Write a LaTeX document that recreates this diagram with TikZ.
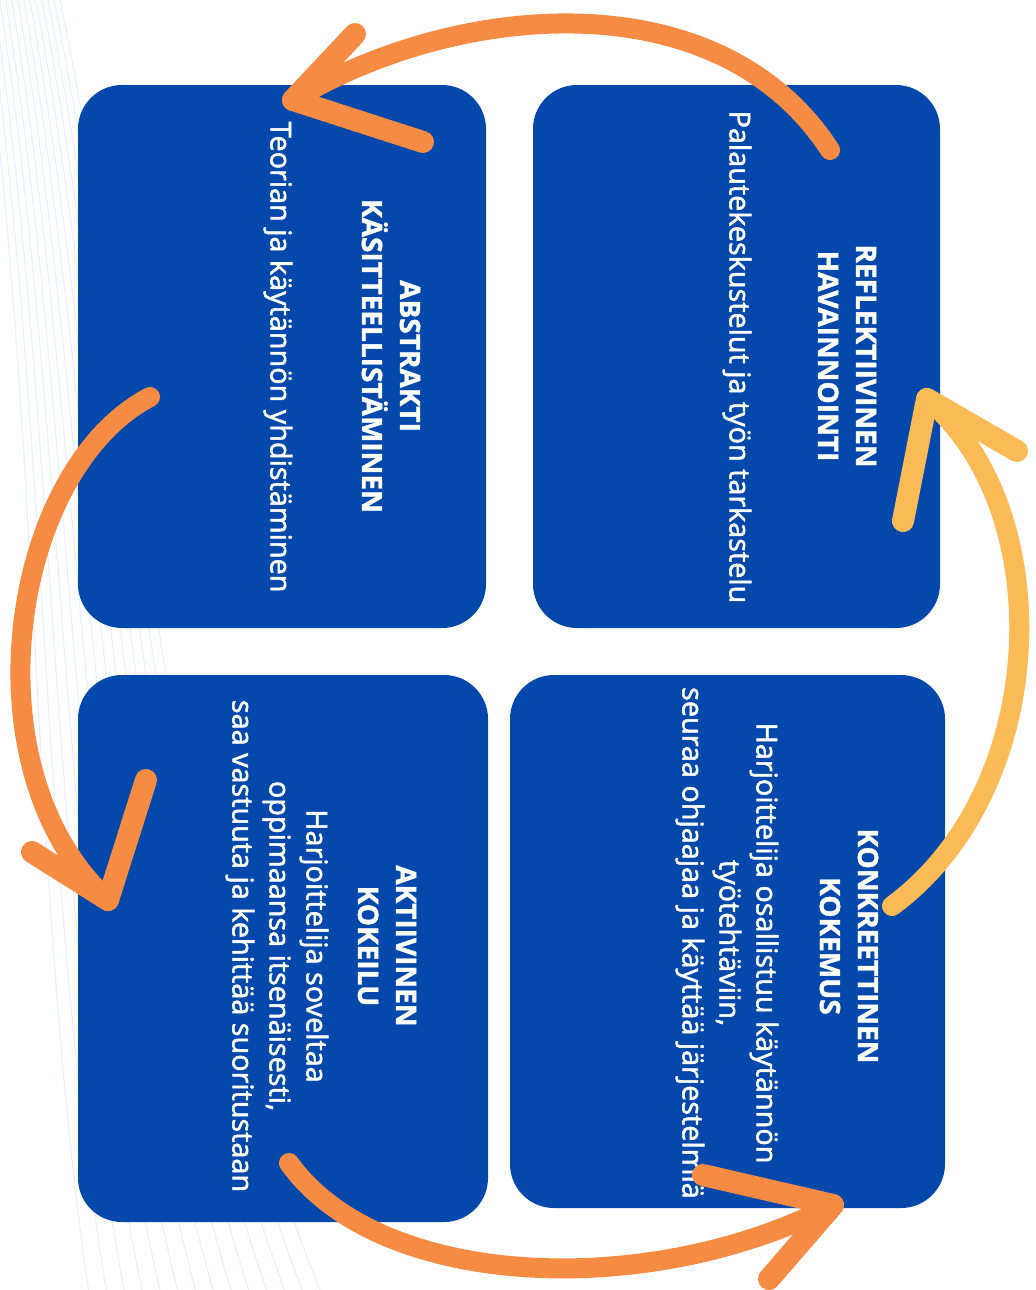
\documentclass[tikz,border=0pt]{standalone}
\usepackage{fontspec}
\setmainfont{Open Sans}
\newfontfamily\bodyfont{Open Sans}[FakeBold=1.8]
\newfontfamily\headfont{Open Sans}[BoldFeatures={FakeBold=1.5}]
\usepackage{tikz}
\usetikzlibrary{calc}
\usetikzlibrary{arrows,shapes,positioning}
\definecolor{boxblue}{RGB}{3,72,170}
\definecolor{brushorange}{RGB}{246,140,68}
\definecolor{brushyellow}{RGB}{250,186,86}
\definecolor{wavegrey}{RGB}{230,241,249}
\tikzset{>=stealth}
\tikzset{
  card/.style={fill=boxblue, rounded corners=22pt, inner sep=0pt},
  head/.style={rotate=-90, text=white, align=center, inner sep=0pt,
    font=\headfont\bfseries\fontsize{14}{19}\selectfont},
  body/.style={rotate=-90, text=white, align=center, inner sep=0pt,
    font=\bodyfont\fontsize{14.4}{18.5}\selectfont},
  brush/.style={line width=10pt, line cap=round, line join=round},
  barb/.style={line width=11pt, line cap=round},
  waveline/.style={wavegrey, line width=0.6pt}
}

\begin{document}
\begin{tikzpicture}[x=0.5pt,y=-0.5pt]
\useasboundingbox (0,0) rectangle (1036,1290);
\fill [white] (0,0) rectangle (1036,1290);
\foreach \i in {0,...,13}
  \draw [waveline] (\i*6-20,-10) .. controls (\i*8+40,400) and (\i*10+30,900) .. (\i*18+90,1300);

\node [card, minimum width=204pt, minimum height=271.5pt] (abstr) at (282,356.5) {};
\node [card, minimum width=203.5pt, minimum height=271.5pt] (refl) at (736.5,356.5) {};
\node [card, minimum width=205pt, minimum height=273.5pt] (aktiv) at (283,948.5) {};
\node [card, minimum width=217.5pt, minimum height=266.5pt] (konkr) at (727.5,941.5) {};

\node [head] (refl-head) at (847,356) {REFLEKTIIVINEN\\HAVAINNOINTI};
\node [body] (refl-text) at (737,357) {Palautekeskustelut ja työn tarkastelu};
\node [head] (abstr-head) at (391,356) {ABSTRAKTI\\KÄSITTEELLISTÄMINEN};
\node [body] (abstr-text) at (278,357) {Teorian ja käytännön yhdistäminen};
\node [head] (konkr-head) at (849,946) {KONKREETTINEN\\KOKEMUS};
\node [body] (konkr-text) at (727,943) {Harjoittelija osallistuu käytännön\\työtehtäviin,\\seuraa ohjaajaa ja käyttää järjestelmiä};
\node [head] (aktiv-head) at (387,946) {AKTIIVINEN\\KOKEILU};
\node [body] (aktiv-text) at (277,946) {Harjoittelija soveltaa\\oppimaansa itsenäisesti,\\saa vastuuta ja kehittää suoritustaan};

\coordinate (refl-out) at (830,150);
\coordinate (abstr-in) at (293,100);
\coordinate (abstr-out) at (150,397);
\coordinate (aktiv-in) at (108,900);
\coordinate (aktiv-out) at (289,1163);
\coordinate (konkr-in) at (833,1205);
\coordinate (konkr-out) at (892,906);
\coordinate (refl-in) at (927,399);

\draw [brush,brushorange] (refl-out) .. controls (720,-20) and (460,0) .. (abstr-in);
\draw [barb,brushorange] (abstr-in) -- ++(62,-66);
\draw [barb,brushorange] (abstr-in) -- ++(130,42);
\draw [brush,brushorange] (abstr-out) .. controls (10,470) and (-35,770) .. (aktiv-in);
\draw [barb,brushorange] (aktiv-in) -- ++(-76,-48);
\draw [barb,brushorange] (aktiv-in) -- ++(38,-120);
\draw [brush,brushorange] (aktiv-out) .. controls (380,1290) and (650,1300) .. (konkr-in);
\draw [barb,brushorange] (konkr-in) -- ++(-130,-30);
\draw [barb,brushorange] (konkr-in) -- ++(-64,74);
\draw [brush,brushyellow] (konkr-out) .. controls (1050,790) and (1060,510) .. (refl-in);
\draw [barb,brushyellow] (refl-in) -- ++(-24,122);
\draw [barb,brushyellow] (refl-in) -- ++(90,52);
\end{tikzpicture}
\end{document}
